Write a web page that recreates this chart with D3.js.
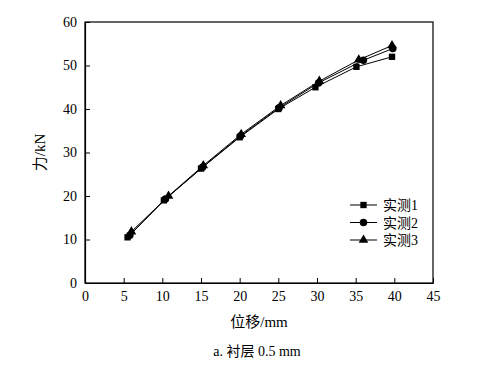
<!DOCTYPE html>
<html><head><meta charset="utf-8">
<script src="https://cdn.jsdelivr.net/npm/d3@7"></script>
<style>body{margin:0;background:#fff}svg{display:block}
svg text{font-family:"Liberation Serif","DejaVu Serif","Noto Sans CJK SC",serif;fill:#000}</style>
</head><body>
<svg id="c" width="492" height="365"></svg>
<script>
const seriesNames = ["实测1","实测2","实测3"];
const s1 = [[5.5,10.5],[10.2,19.0],[15.0,26.3],[20.0,33.5],[25.0,40.0],[29.8,45.0],[35.1,49.7],[39.7,52.0]];
const s2 = [[5.8,11.0],[10.4,19.3],[15.2,26.6],[20.1,33.8],[25.1,40.3],[30.2,46.0],[36.0,51.2],[39.8,53.9]];
const s3 = [[6.0,11.8],[10.8,20.0],[15.3,27.0],[20.2,34.2],[25.3,40.8],[30.3,46.4],[35.4,51.3],[39.7,54.6]];
const markers = ["square","circle","triangle"];
const xTicks = [0,5,10,15,20,25,30,35,40,45];
const yTicks = [0,10,20,30,40,50,60];
const xLabel = "位移/mm", yLabel = "力/kN", caption = "a. 衬层 0.5 mm";

const svg = d3.select("#c");
const L=85,R=433,T=22,B=283;
const x = d3.scaleLinear().domain([0,45]).range([L,R]);
const y = d3.scaleLinear().domain([0,60]).range([B,T]);

svg.append("rect").attr("x",L).attr("y",T).attr("width",R-L).attr("height",B-T)
  .attr("fill","none").attr("stroke","#000").attr("stroke-width",1.2);

const gx = svg.append("g").attr("transform",`translate(0,${B})`)
  .call(d3.axisBottom(x).tickValues(xTicks).tickSizeInner(-5).tickSizeOuter(0).tickPadding(8));
const gy = svg.append("g").attr("transform",`translate(${L},0)`)
  .call(d3.axisLeft(y).tickValues(yTicks).tickSizeInner(-5).tickSizeOuter(0).tickPadding(8));
[gx,gy].forEach(g=>{
  g.attr("font-family",null).attr("font-size",null);
  g.select(".domain").attr("stroke","#000").attr("stroke-width",1.2);
  g.selectAll(".tick line").attr("stroke","#000");
  g.selectAll("text").style("font-size","14px");
});

const sym = {square:d3.symbolSquare,circle:d3.symbolCircle,triangle:d3.symbolTriangle};
const sizes = {square:40,circle:44,triangle:40};
const line = d3.line().x(d=>x(d[0])).y(d=>y(d[1]));
[s1,s2,s3].forEach((s,i)=>{
  svg.append("path").datum(s).attr("d",line).attr("fill","none").attr("stroke","#000").attr("stroke-width",1);
  svg.selectAll(null).data(s).enter().append("path")
    .attr("transform",d=>`translate(${x(d[0])},${y(d[1])})`)
    .attr("d",d3.symbol().type(sym[markers[i]]).size(sizes[markers[i]])).attr("fill","#000");
});

seriesNames.forEach((n,i)=>{
  const yy = 205 + i*17.5;
  svg.append("line").attr("x1",350).attr("x2",377).attr("y1",yy).attr("y2",yy).attr("stroke","#000");
  svg.append("path").attr("transform",`translate(363.5,${yy})`)
    .attr("d",d3.symbol().type(sym[markers[i]]).size(sizes[markers[i]])).attr("fill","#000");
  svg.append("text").attr("x",383).attr("y",yy+5).style("font-size","14px").text(n);
});

svg.append("text").attr("x",(L+R)/2).attr("y",327).attr("text-anchor","middle")
  .style("font-size","15px").text(xLabel);
svg.append("text").attr("transform",`translate(45,${(T+B)/2}) rotate(-90)`).attr("text-anchor","middle")
  .style("font-size","15px").text(yLabel);
svg.append("text").attr("x",257).attr("y",356).attr("text-anchor","middle")
  .style("font-size","14px").text(caption);
</script>
</body></html>
